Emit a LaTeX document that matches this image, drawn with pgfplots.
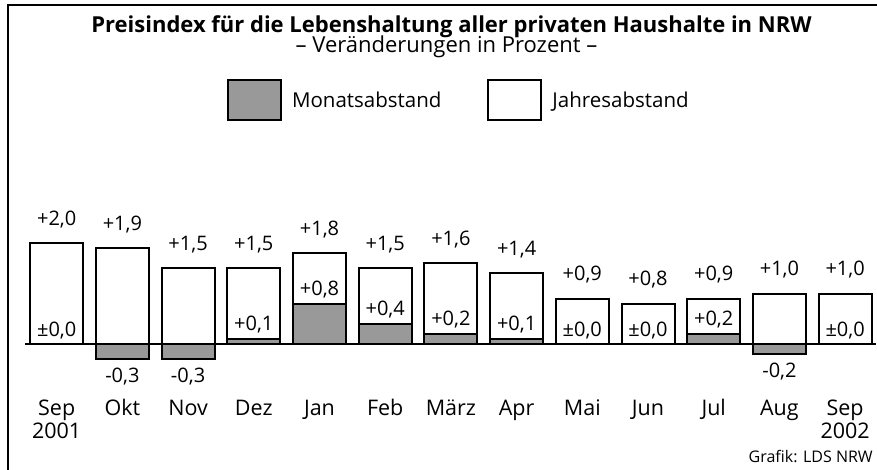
\documentclass[border=0pt]{standalone}
\usepackage{fontspec}
\setmainfont{Open Sans}
\usepackage{pgfplots}
\pgfplotsset{compat=1.18}
\usepackage{pgfplotstable}
% Jahresabstand
\pgfplotstableread{
x J Jl
0 2.0 +2,0
1 1.9 +1,9
2 1.5 +1,5
3 1.5 +1,5
4 1.8 +1,8
5 1.5 +1,5
6 1.6 +1,6
7 1.4 +1,4
8 0.9 +0,9
9 0.8 +0,8
10 0.9 +0,9
11 1.0 +1,0
12 1.0 +1,0
}\jahrtable
% Monatsabstand, non-negative
\pgfplotstableread{
x M Ml
0 0.0 ±0,0
3 0.1 +0,1
4 0.8 +0,8
5 0.4 +0,4
6 0.2 +0,2
7 0.1 +0,1
8 0.0 ±0,0
9 0.0 ±0,0
10 0.2 +0,2
12 0.0 ±0,0
}\monposTable
% Monatsabstand, negative
\pgfplotstableread{
x M Ml
1 -0.3 -0,3
2 -0.3 -0,3
11 -0.2 -0,2
}\monnegTable
\definecolor{bargray}{gray}{0.6}
\begin{document}
\begin{tikzpicture}[x=1pt,y=1pt]
\useasboundingbox (0,0) rectangle (877,-470);
\draw[line width=2pt] (8,-470) -- (8,-5) -- (877,-5);
\node[anchor=base, inner sep=0pt, font=\bfseries\fontsize{22}{26}\selectfont] at (451.5,-33) {Preisindex für die Lebenshaltung aller privaten Haushalte in NRW};
\node[anchor=base, inner sep=0pt, font=\fontsize{22}{26}\selectfont] at (446.5,-53) {– Veränderungen in Prozent –};
\node[anchor=base east, inner sep=0pt, font=\fontsize{16}{18}\selectfont] at (873,-462) {Grafik: LDS NRW};
\begin{axis}[
  at={(25pt,-369.25pt)}, anchor=south west,
  scale only axis, width=851pt, height=151.5pt,
  xmin=-0.482, xmax=12.47, ymin=-0.5, ymax=2.5,
  clip=false,
  axis line style={draw=none},
  ytick=\empty,
  xtick={0,...,12},
  major tick length=0pt,
  typeset ticklabels with strut,
  xticklabels={{Sep\\2001},Okt,Nov,Dez,Jan,Feb,März,Apr,Mai,Jun,Jul,Aug,{Sep\\2002}},
  xticklabel style={align=center, anchor=north, yshift=-29.6pt, font=\fontsize{21.5}{23}\selectfont, inner sep=0pt},
  legend columns=2,
  legend image code/.code={\draw[#1] (0pt,-20pt) rectangle (53pt,20pt);},
  legend style={draw=none, fill=none, at={(0.2374,1.777)}, anchor=west, inner sep=0pt, outer sep=0pt,
    nodes={inner sep=0pt, font=\fontsize{20.5}{24}\selectfont},
    /tikz/every odd column/.append style={column sep=10pt},
    /tikz/every even column/.append style={column sep=46pt}},
  mybar/.style={ybar, bar width=53pt, bar shift=0pt, draw=black, line width=2pt,
    point meta=explicit symbolic, nodes near coords, forget plot},
]
\addplot[mybar, fill=white,
  nodes near coords style={anchor=south, inner xsep=0pt, inner ysep=0pt, yshift=17pt, text depth=0pt, font=\fontsize{20}{24}\selectfont}]
  table[x=x, y=J, meta=Jl] {\jahrtable};
\addplot[mybar, fill=bargray,
  nodes near coords style={anchor=south, inner xsep=0pt, inner ysep=7pt, text depth=0pt, font=\fontsize{20}{24}\selectfont}]
  table[x=x, y=M, meta=Ml] {\monposTable};
\addplot[mybar, fill=bargray,
  nodes near coords style={anchor=north, inner xsep=0pt, inner ysep=8pt, text depth=0pt, text height=14.3pt, font=\fontsize{20}{24}\selectfont}]
  table[x=x, y=M, meta=Ml] {\monnegTable};
\draw[line width=2.4pt] (axis cs:-0.482,0) -- (axis cs:12.47,0);
\addlegendimage{fill=bargray, draw=black, line width=2pt}
\addlegendentry{Monatsabstand}
\addlegendimage{fill=white, draw=black, line width=2pt}
\addlegendentry{Jahresabstand}
\end{axis}
\end{tikzpicture}
\end{document}
